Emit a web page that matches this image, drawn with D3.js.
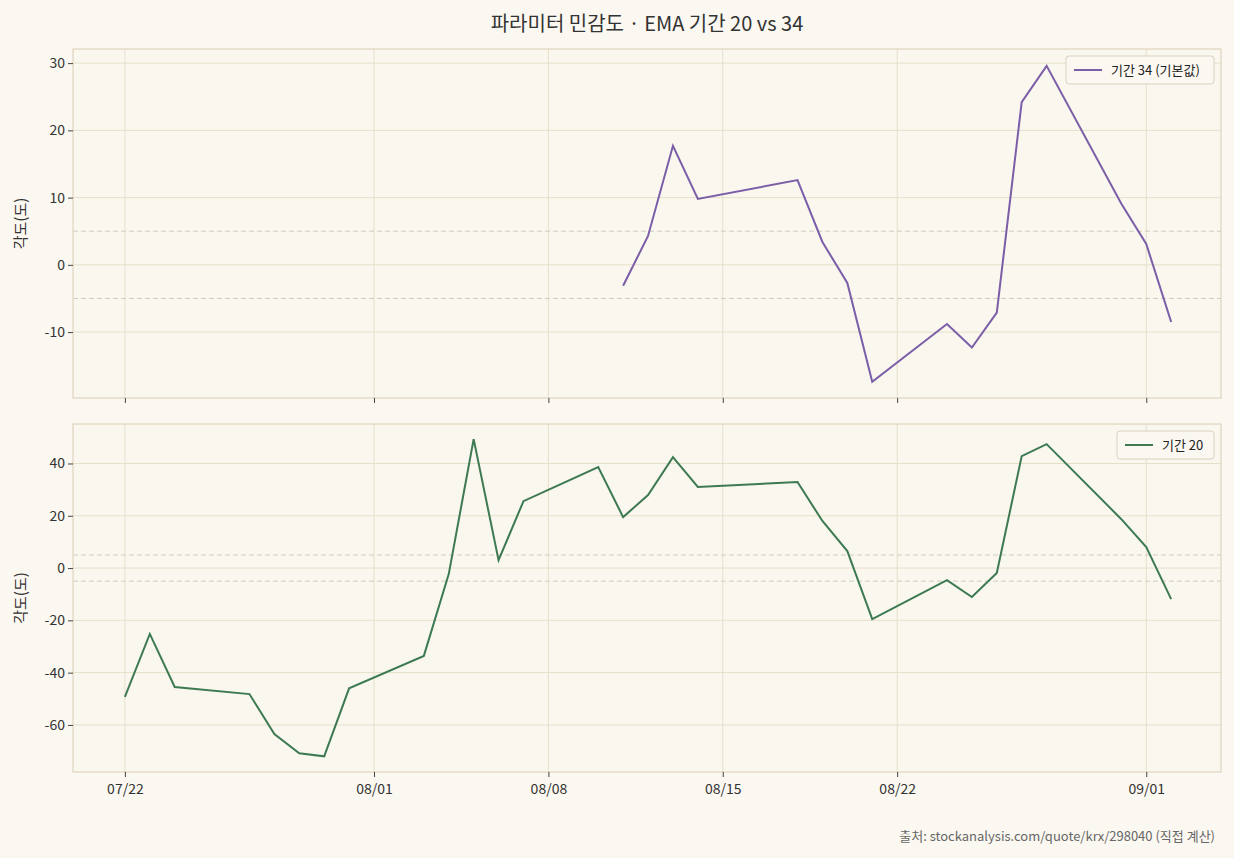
<!DOCTYPE html><html><head><meta charset="utf-8"><script src="https://cdn.jsdelivr.net/npm/d3@7"></script>
<style>body{margin:0;background:#fbf8f1}text{font-family:"Noto Sans CJK KR","Noto Sans",sans-serif}</style></head><body>
<svg id="c" width="1234" height="858"></svg>
<script>
const dates=["2026-07-22","2026-07-23","2026-07-24","2026-07-27","2026-07-28","2026-07-29","2026-07-30","2026-07-31","2026-08-03","2026-08-04","2026-08-05","2026-08-06","2026-08-07","2026-08-10","2026-08-11","2026-08-12","2026-08-13","2026-08-14","2026-08-18","2026-08-19","2026-08-20","2026-08-21","2026-08-24","2026-08-25","2026-08-26","2026-08-27","2026-08-28","2026-08-31","2026-09-01","2026-09-02"];
const ema20=[-49.3,-25.2,-45.5,-48.2,-63.5,-70.8,-72,-46,-33.6,-2.3,49.3,3,25.6,38.6,19.5,27.9,42.4,31,32.9,18,6.5,-19.5,-4.6,-11.1,-1.9,42.8,47.4,18.7,8,-11.9];
const ema34=[null,null,null,null,null,null,null,null,null,null,null,null,null,null,-3.1,4.3,17.7,9.8,12.6,3.4,-2.7,-17.4,-8.8,-12.3,-7.1,24.2,29.6,9.1,3.1,-8.5];
const xTicks=["2026-07-22","2026-08-01","2026-08-08","2026-08-15","2026-08-22","2026-09-01"];
const topTicks=[30,20,10,0,-10], botTicks=[40,20,0,-20,-40,-60];
const p=d3.timeParse("%Y-%m-%d");
const svg=d3.select("#c");
const x=d3.scaleTime().domain([p("2026-07-19T21:50".slice(0,10)),p("2026-09-04")]).range([73,1221]);
x.domain([d3.timeHour.offset(p("2026-07-22"),-50),d3.timeHour.offset(p("2026-07-22"),44.02*24)]);
svg.append("text").attr("x",647).attr("y",31).attr("text-anchor","middle").attr("font-size",20).attr("fill","#333").text("파라미터 민감도 · EMA 기간 20 vs 34");
svg.append("text").attr("x",1215).attr("y",841).attr("text-anchor","end").attr("font-size",13).attr("fill","#666").text("출처: stockanalysis.com/quote/krx/298040 (직접 계산)");
function panel(y0,y1,dom,ticks,vals,color,label,showX,lw){
  const y=d3.scaleLinear().domain(dom).range([y1,y0]);
  const g=svg.append("g");
  g.append("rect").attr("x",73).attr("y",y0).attr("width",1148).attr("height",y1-y0).attr("fill","#faf7ef");
  xTicks.forEach(t=>g.append("line").attr("x1",x(p(t))).attr("x2",x(p(t))).attr("y1",y0).attr("y2",y1).attr("stroke","#e6e0c9"));
  ticks.forEach(t=>g.append("line").attr("x1",73).attr("x2",1221).attr("y1",y(t)).attr("y2",y(t)).attr("stroke","#e6e0c9"));
  [5,-5].forEach(t=>g.append("line").attr("x1",73).attr("x2",1221).attr("y1",y(t)).attr("y2",y(t)).attr("stroke","#cfccc4").attr("stroke-dasharray","5,3"));
  g.append("rect").attr("x",73).attr("y",y0).attr("width",1148).attr("height",y1-y0).attr("fill","none").attr("stroke","#d9ccb4");
  const ya=g.append("g").attr("transform","translate(73,0)").call(d3.axisLeft(y).tickValues(ticks).tickSize(5).tickFormat(d=>String(d).replace("−","-")));
  ya.select(".domain").remove();ya.selectAll("line").attr("stroke","#444");ya.selectAll("text").attr("font-size",14).attr("fill","#333").style("font-family","Noto Sans CJK KR");
  const xa=g.append("g").attr("transform",`translate(0,${y1})`).call(d3.axisBottom(x).tickValues(xTicks.map(p)).tickSize(5).tickFormat(showX?d3.timeFormat("%m/%d"):""));
  xa.select(".domain").remove();xa.selectAll("line").attr("stroke","#444");xa.selectAll("text").attr("font-size",14).attr("fill","#333").attr("dy","1em").style("font-family","Noto Sans CJK KR");
  g.append("text").attr("transform",`translate(26,${(y0+y1)/2}) rotate(-90)`).attr("text-anchor","middle").attr("font-size",15).attr("fill","#333").text("각도(도)");
  const line=d3.line().defined(d=>d[1]!=null).x(d=>x(p(d[0]))).y(d=>y(d[1]));
  g.append("path").datum(dates.map((d,i)=>[d,vals[i]])).attr("d",line).attr("fill","none").attr("stroke",color).attr("stroke-width",2);
  const lx=1221-7-lw;
  g.append("rect").attr("x",lx).attr("y",y0+7).attr("width",lw).attr("height",28).attr("rx",3).attr("fill","#fbf8f1").attr("stroke","#d9d2c0");
  g.append("line").attr("x1",lx+8).attr("x2",lx+36).attr("y1",y0+21).attr("y2",y0+21).attr("stroke",color).attr("stroke-width",2);
  g.append("text").attr("x",lx+45).attr("y",y0+26).attr("font-size",13).attr("fill","#222").text(label);
}
panel(49,398,[-19.8,32.1],topTicks,ema34,"#7b5ea7","기간 34 (기본값)",false,148);
panel(424,772,[-78,55.1],botTicks,ema20,"#3d7a52","기간 20",true,97);
</script></body></html>
